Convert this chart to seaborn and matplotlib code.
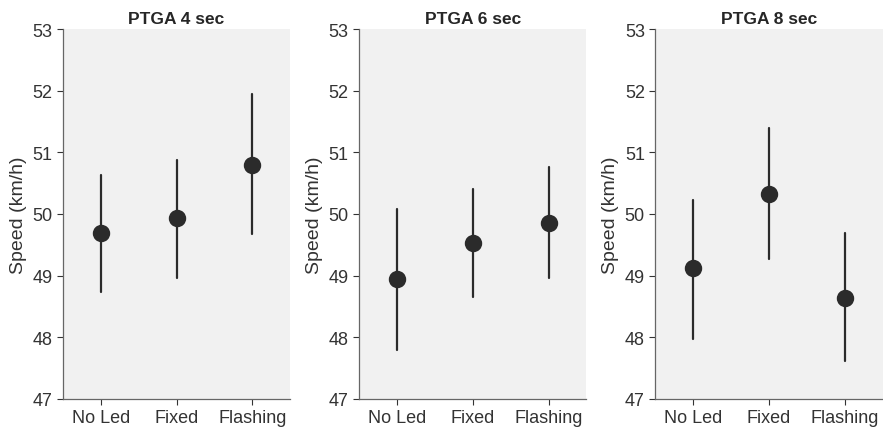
import pandas as pd
import matplotlib
matplotlib.use("Agg")
import matplotlib.pyplot as plt
import seaborn as sns

conditions = ["No Led", "Fixed", "Flashing"]
panels = ["PTGA 4 sec", "PTGA 6 sec", "PTGA 8 sec"]

# mean speed and error bar ends, per panel
means = [[49.69, 49.94, 50.80],
         [48.94, 49.53, 49.86],
         [49.12, 50.33, 48.64]]
lower = [[48.74, 48.97, 49.67],
         [47.80, 48.65, 48.96],
         [47.98, 49.27, 47.61]]
upper = [[50.63, 50.88, 51.94],
         [50.08, 50.41, 50.76],
         [50.23, 51.40, 49.69]]

rows = []
for p, panel in enumerate(panels):
    for c, cond in enumerate(conditions):
        for v in (lower[p][c], means[p][c], upper[p][c]):
            rows.append({"panel": panel, "condition": cond, "speed": v})
df = pd.DataFrame(rows)

sns.set_style("white")
plt.rcParams["font.family"] = ["Liberation Sans", "DejaVu Sans"]

fig, axes = plt.subplots(1, 3, figsize=(8.83, 4.35), dpi=100)
fig.subplots_adjust(left=0.0713, right=0.9995, bottom=0.0805, top=0.931, wspace=0.303)

for ax, panel in zip(axes, panels):
    sub = df[df["panel"] == panel]
    sns.pointplot(data=sub, x="condition", y="speed", order=conditions,
                  estimator="median", errorbar=lambda x: (x.min(), x.max()),
                  linestyle="none", color="#2b2b2b", markersize=10.5,
                  err_kws={"linewidth": 1.6}, ax=ax)
    ax.set_facecolor("#f1f1f1")
    ax.set_xlim(-0.5, 2.5)
    ax.set_ylim(47, 53)
    ax.set_yticks(range(47, 54))
    ax.set_title(panel, fontsize=12.5, fontweight="bold", pad=4)
    ax.set_xlabel("")
    ax.set_ylabel("Speed (km/h)", fontsize=14, color="#333333")
    ax.tick_params(axis="both", labelsize=13, colors="#333333", direction="out",
                   length=4, width=0.8, left=True, bottom=True)
    for s in ["top", "right"]:
        ax.spines[s].set_visible(False)
    for s in ["left", "bottom"]:
        ax.spines[s].set_color("#666666")
        ax.spines[s].set_linewidth(0.9)

fig.savefig("out.png", dpi=100)
